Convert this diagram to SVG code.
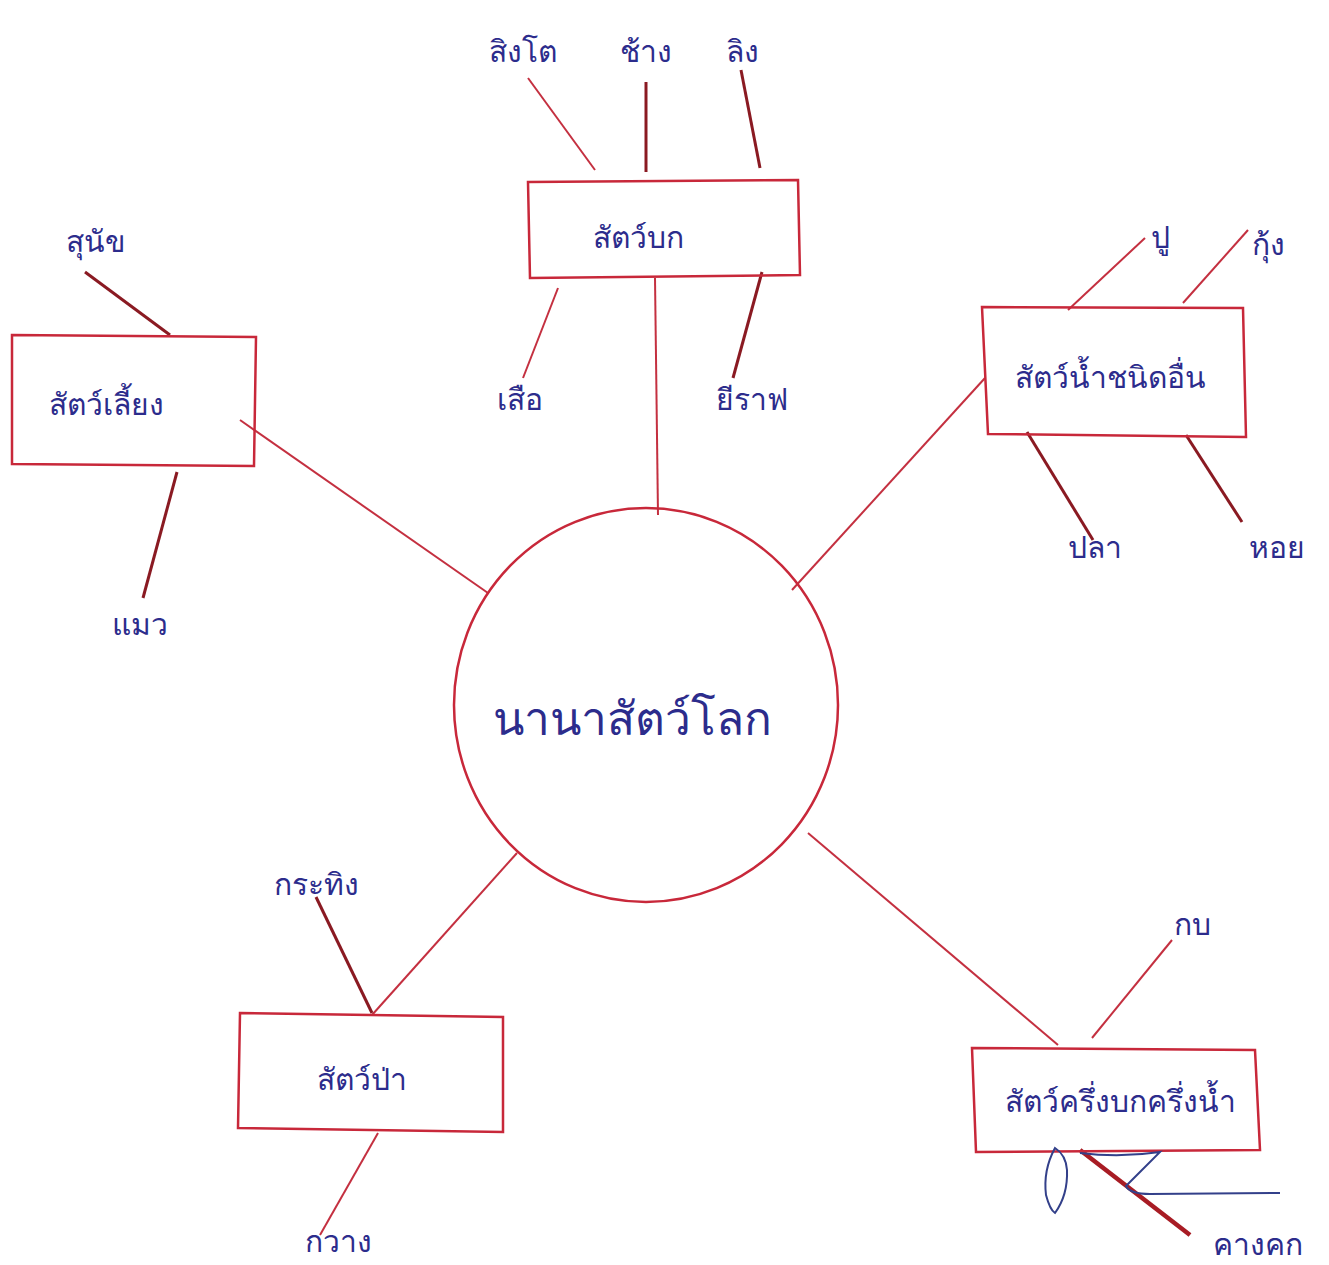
<svg xmlns="http://www.w3.org/2000/svg" width="1329" height="1265" viewBox="0 0 1329 1265">
<style>
.bg{fill:#ffffff}
.box{fill:none;stroke:#c8283a;stroke-width:2.5}
.ln{fill:none;stroke:#c43040;stroke-width:2}
.dk{fill:none;stroke:#8a1a22;stroke-width:3}
.t{font-family:"Noto Sans","DejaVu Sans",sans-serif;fill:#2c2c8c;text-anchor:middle}
.lf{font-size:30px}
.bx{font-size:30px}
.ctr{font-size:46px}
.scr{fill:none;stroke:#33408a;stroke-width:2}
</style>
<rect class="bg" width="1329" height="1265"/>
<g id="connectors">
<line class="ln" x1="658" y1="515" x2="655" y2="278"/>
<line class="ln" x1="488" y1="593" x2="240" y2="420"/>
<line class="ln" x1="792" y1="590" x2="985" y2="378"/>
<line class="ln" x1="517" y1="853" x2="372" y2="1015"/>
<line class="ln" x1="808" y1="833" x2="1058" y2="1045"/>
<line class="ln" x1="528" y1="78" x2="595" y2="170"/>
<line class="dk" x1="646" y1="82" x2="646" y2="172"/>
<line class="dk" x1="741" y1="70" x2="760" y2="168"/>
<line class="ln" x1="558" y1="288" x2="523" y2="378"/>
<line class="dk" x1="762" y1="272" x2="733" y2="378"/>
<line class="dk" x1="85" y1="272" x2="170" y2="335"/>
<line class="dk" x1="177" y1="472" x2="143" y2="598"/>
<line class="ln" x1="1145" y1="238" x2="1068" y2="310"/>
<line class="ln" x1="1248" y1="230" x2="1183" y2="303"/>
<line class="dk" x1="1027" y1="432" x2="1093" y2="540"/>
<line class="dk" x1="1186" y1="435" x2="1242" y2="522"/>
<line class="dk" x1="316" y1="897" x2="372" y2="1013"/>
<line class="ln" x1="378" y1="1133" x2="320" y2="1235"/>
<line class="ln" x1="1172" y1="940" x2="1092" y2="1038"/>
<line class="dk" x1="1080" y1="1150" x2="1190" y2="1235" style="stroke-width:4.5;stroke:#a81c24"/>
</g>
<g id="center">
<ellipse cx="646" cy="705" rx="192" ry="197" class="box"/>
<text class="t ctr" x="632" y="735">นานาสัตว์โลก</text>
</g>
<g id="land">
<path class="box" d="M528 182 L798 180 L800 275 L530 278 Z"/>
<text class="t bx" x="638" y="248">สัตว์บก</text>
<text class="t lf" x="523" y="62">สิงโต</text>
<text class="t lf" x="646" y="62">ช้าง</text>
<text class="t lf" x="742" y="62">ลิง</text>
<text class="t lf" x="520" y="410">เสือ</text>
<text class="t lf" x="752" y="410">ยีราฟ</text>
</g>
<g id="pets">
<path class="box" d="M12 335 L256 337 L254 466 L12 464 Z"/>
<text class="t bx" x="106" y="415">สัตว์เลี้ยง</text>
<text class="t lf" x="96" y="252">สุนัข</text>
<text class="t lf" x="140" y="635">แมว</text>
</g>
<g id="water">
<path class="box" d="M982 307 L1243 308 L1246 437 L988 434 Z"/>
<text class="t bx" x="1110" y="388">สัตว์น้ำชนิดอื่น</text>
<text class="t lf" x="1160" y="248">ปู</text>
<text class="t lf" x="1268" y="255">กุ้ง</text>
<text class="t lf" x="1095" y="558">ปลา</text>
<text class="t lf" x="1277" y="558">หอย</text>
</g>
<g id="wild">
<path class="box" d="M240 1013 L503 1017 L503 1132 L238 1128 Z"/>
<text class="t bx" x="362" y="1090">สัตว์ป่า</text>
<text class="t lf" x="316" y="895">กระทิง</text>
<text class="t lf" x="338" y="1252">กวาง</text>
</g>
<g id="amphibian">
<path class="box" d="M972 1048 L1255 1050 L1260 1150 L976 1152 Z"/>
<text class="t bx" x="1120" y="1112">สัตว์ครึ่งบกครึ่งน้ำ</text>
<text class="t lf" x="1192" y="935">กบ</text>
<text class="t lf" x="1258" y="1255">คางคก</text>
<path class="scr" d="M1055 1148 Q1043 1170 1046 1195 Q1050 1210 1055 1213 Q1068 1195 1067 1170 Q1066 1155 1055 1148 Z"/>
<path class="scr" d="M1080 1153 Q1120 1158 1160 1152 Q1140 1172 1126 1186 Q1130 1194 1150 1194 L1280 1193"/>
</g>
</svg>
